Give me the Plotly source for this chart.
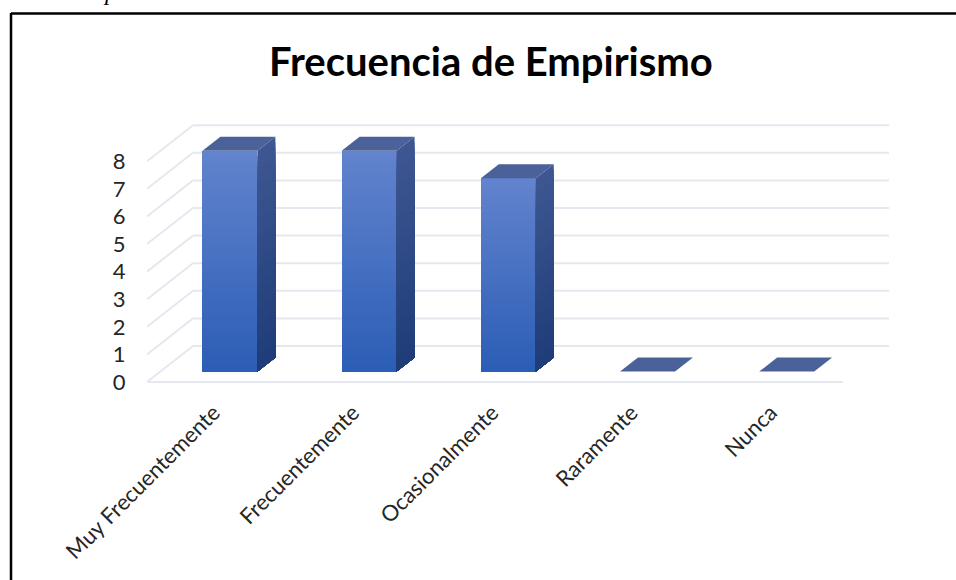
import plotly.graph_objects as go

# --- data ---
categories = ["Muy Frecuentemente", "Frecuentemente", "Ocasionalmente", "Raramente", "Nunca"]
values = [8, 8, 7, 0, 0]
y_ticks = [0, 1, 2, 3, 4, 5, 6, 7, 8]
title_text = "Frecuencia de Empirismo"

# --- layout geometry ---
W, H = 956, 580
L, R, T, B = 147, 900, 110, 389
UX, UY = 139.2, 27.6          # pixels per category / per value
X0, Y0 = 216.6, 382           # category 0 centre, value 0 on the front plane
DX, DY = 46 / UX, 36 / UY     # full floor depth in axis units
BAR_W = 0.395
D_FRONT, D_BACK = 0.29, 0.68  # bar depth span
STEPS = 40

def lerp(a, b, t):
    return tuple(a[i] + (b[i] - a[i]) * t for i in range(3))

def rgb(c):
    return "rgb(%d,%d,%d)" % tuple(round(v) for v in c)

def proj(x, v, d):
    return x + d * DX, v + d * DY

def poly(fig, pts, color):
    xs = [p[0] for p in pts] + [pts[0][0]]
    ys = [p[1] for p in pts] + [pts[0][1]]
    fig.add_trace(go.Scatter(x=xs, y=ys, mode="lines", fill="toself", fillcolor=color,
                             line=dict(width=0), hoverinfo="skip", showlegend=False))

fig = go.Figure()
GRID = "#e6e8f0"
x_left = -0.5
x_right = x_left + len(categories)

# back wall gridlines + left wall slants, kept below every trace
grid_shapes = []
def grid_line(p, q):
    grid_shapes.append(dict(type="line", xref="x", yref="y", layer="below",
                            x0=p[0], y0=p[1], x1=q[0], y1=q[1],
                            line=dict(color=GRID, width=2)))
for t in y_ticks:
    a = proj(x_left, t, 0)
    b = proj(x_left, t, 1)
    c = proj(x_right, t, 1)
    grid_line(a, b)
    grid_line(b, c)
# floor: front edge
grid_line((x_left, 0), (x_right, 0))

# base offset of the bars' front face
_, base_v = proj(0, 0, D_FRONT)
fx = [i + D_FRONT * DX for i in range(len(categories))]

# side faces: each slice reaches the floor, the next one paints over it
SIDE_TOP, SIDE_BOT = (62, 87, 146), (30, 60, 120)
for i, v in enumerate(values):
    if v <= 0:
        continue
    xr = i + BAR_W / 2
    for s in range(STEPS):
        t0 = s / STEPS
        v0 = v * (1 - t0)
        poly(fig, [proj(xr, v0, D_FRONT), proj(xr, v0, D_BACK),
                   proj(xr, 0, D_BACK), proj(xr, 0, D_FRONT)],
             rgb(lerp(SIDE_TOP, SIDE_BOT, t0)))

# top faces
TOP_COL = "#4a6299"
for i, v in enumerate(values):
    poly(fig, [proj(i - BAR_W / 2, v, D_FRONT), proj(i + BAR_W / 2, v, D_FRONT),
               proj(i + BAR_W / 2, v, D_BACK), proj(i - BAR_W / 2, v, D_BACK)], TOP_COL)

# front faces: bars getting shorter, each painted over the previous one
FRONT_TOP, FRONT_BOT = (98, 131, 205), (42, 93, 181)
for s in range(STEPS):
    t = s / STEPS
    ys = [v * (1 - t) for v in values]
    fig.add_trace(go.Bar(x=fx, y=ys, base=[base_v] * len(values), width=BAR_W,
                         marker=dict(color=rgb(lerp(FRONT_TOP, FRONT_BOT, t)), line=dict(width=0)),
                         hoverinfo="skip", showlegend=False))

frame = [
    dict(type="line", xref="paper", yref="paper", layer="above",
         x0=(11 - L) / (R - L), x1=(W - L) / (R - L),
         y0=1 + (T - 13.5) / (B - T), y1=1 + (T - 13.5) / (B - T),
         line=dict(color="#000000", width=2.5)),
    dict(type="line", xref="paper", yref="paper", layer="above",
         x0=(11 - L) / (R - L), x1=(11 - L) / (R - L),
         y0=1 + (T - 13) / (B - T), y1=1 - (H - T) / (B - T),
         line=dict(color="#000000", width=2.5)),
]

fig.update_layout(
    width=W, height=H, autosize=False,
    margin=dict(l=L, r=W - R, t=T, b=H - B),
    paper_bgcolor="white", plot_bgcolor="white",
    barmode="overlay", bargap=0,
    font=dict(family="Lato", color="#262626"),
    xaxis=dict(range=[(L - X0) / UX, (R - X0) / UX], tickmode="array",
               tickvals=[i - 0.02 for i in range(len(categories))], ticktext=categories,
               tickangle=-45, tickfont=dict(size=22, color="#262626"),
               showgrid=False, zeroline=False, showline=False,
               ticks="outside", ticklen=1, tickcolor="rgba(0,0,0,0)"),
    yaxis=dict(range=[(Y0 - B) / UY, (Y0 - T) / UY], tickmode="array",
               tickvals=y_ticks, ticktext=[str(t) for t in y_ticks],
               tickfont=dict(size=22, color="#262626"),
               showgrid=False, zeroline=False, showline=False,
               ticks="outside", ticklen=16, tickcolor="rgba(0,0,0,0)"),
    annotations=[
        dict(text="<b>%s</b>" % title_text, xref="paper", yref="paper",
             x=(491 - L) / (R - L), y=1 + (T - 61) / (B - T), xanchor="center", yanchor="middle",
             showarrow=False, font=dict(family="Lato", size=40, color="#000000")),
        dict(text="<i>p</i>", xref="paper", yref="paper",
             x=(110 - L) / (R - L), y=1 + (T + 8) / (B - T), xanchor="center", yanchor="middle",
             showarrow=False, font=dict(family="Liberation Serif", size=24, color="#000000")),
    ],
    shapes=grid_shapes + frame,
)

fig.write_html("out.html", config={"displayModeBar": False},
               post_script="document.body.style.margin='0';document.body.style.overflow='hidden';")
